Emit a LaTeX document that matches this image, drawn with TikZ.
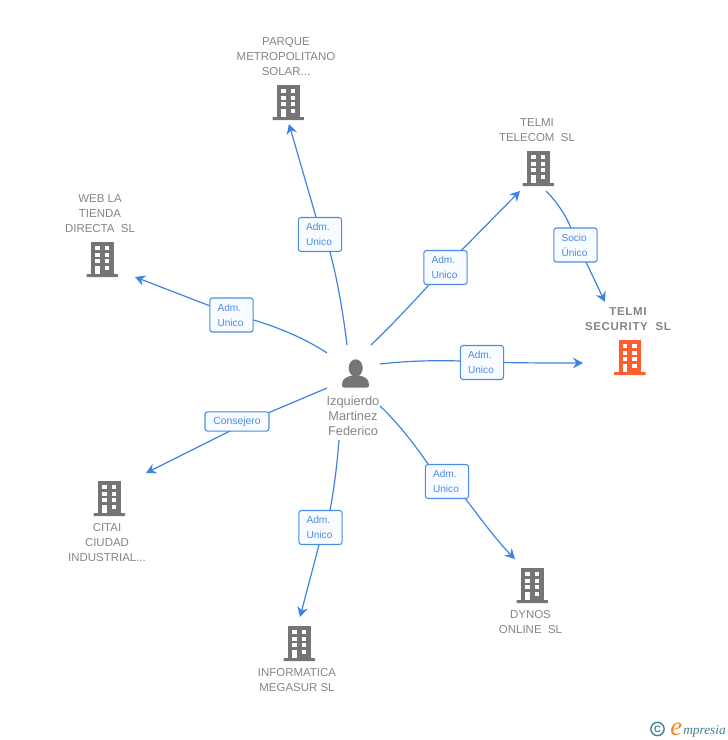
\documentclass[tikz,border=0pt]{standalone}
\usepackage{fontspec}
\setmainfont{Liberation Sans}
\newfontfamily\logofont{Liberation Serif}
\newfontfamily\boldspaced[LetterSpace=6]{Liberation Sans Bold}
\usetikzlibrary{arrows.meta}
\definecolor{linkblue}{HTML}{3F83E0}
\definecolor{labelblue}{HTML}{4A8CE4}
\definecolor{labelfill}{HTML}{F8FBFF}
\definecolor{txtgrey}{HTML}{858585}
\definecolor{icongrey}{HTML}{757575}
\definecolor{hot}{HTML}{FF5F2E}
\definecolor{logoblue}{HTML}{3E7F95}
\definecolor{logoorange}{HTML}{F08A1D}
\tikzset{
  x=0.75pt,y=-0.75pt,
  link/.style={draw=linkblue,line width=0.9pt,-{Stealth[length=7.5pt,width=8pt,inset=2.5pt]}},
  tag/.style={draw=labelblue,line width=0.8pt,fill=labelfill,rounded corners=2pt,text=labelblue,
    font=\fontsize{7.6}{11.2}\selectfont,inner sep=0pt,minimum height=25.5pt,text width=21pt,
    minimum width=32.5pt,align=left},
  tagwide/.style={draw=labelblue,line width=0.8pt,fill=labelfill,rounded corners=2pt,text=labelblue,
    font=\fontsize{7.8}{11.2}\selectfont,inner sep=0pt,minimum width=48pt,minimum height=14.5pt},
  nodetxt/.style={text=txtgrey,font=\fontsize{8.6}{11.25}\selectfont,align=center,inner sep=0pt},
  pics/tower/.style={code={
    \fill[#1] (-11,-17) rectangle (11.5,15);
    \fill[#1,rounded corners=0.5pt] (-15.5,15) rectangle (16,18);
    \foreach \yy in {-13,-6.3,0.3} {
      \fill[white] (-7,\yy) rectangle (-2.3,\yy+4);
      \fill[white] (2.7,\yy) rectangle (7.4,\yy+4);
    }
    \fill[white] (-7,7) rectangle (-2.3,15);
    \fill[white] (2.7,7) rectangle (7.4,11.3);
  }},
  pics/tower/.default=icongrey
}
\begin{document}
\begin{tikzpicture}
\useasboundingbox (0,0) rectangle (728,740);
% icons
\pic at (288,102) {tower};
\pic at (538,168) {tower};
\pic at (102,259) {tower};
\pic at (629.5,357) {tower=hot};
\pic at (109,498) {tower};
\pic at (532,585) {tower};
\pic at (299,643) {tower};
% person
\fill[icongrey] (355.7,368) ellipse (7 and 8.7);
\fill[icongrey,rounded corners=1.5pt] (342,387.5) .. controls (342,379) and (345,378) .. (351,375.5)
  -- (360.5,375.5) .. controls (366,378) and (369,379) .. (369,387.5) -- cycle;
% nodes
\node[nodetxt] (n1) at (286,56.5) {PARQUE\\METROPOLITANO\\SOLAR...};
\node[nodetxt] (n2) at (537,130) {TELMI\\TELECOM\ \ SL};
\node[nodetxt] (n3) at (100,213.5) {WEB LA\\TIENDA\\DIRECTA\ \ SL};
\node[nodetxt,font=\boldspaced\fontsize{8.6}{11.25}\selectfont] (n4) at (628,319.5) {TELMI\\SECURITY\ \ SL};
\node[nodetxt] (n5) at (107,542.5) {CITAI\\CIUDAD\\INDUSTRIAL...};
\node[nodetxt] (n6) at (530.5,622) {DYNOS\\ONLINE\ \ SL};
\node[nodetxt] (n7) at (297,680) {INFORMATICA\\MEGASUR SL};
\node[nodetxt,font=\fontsize{9.6}{11.25}\selectfont] (p) at (353,416) {Izquierdo\\Martinez\\Federico};
% connector ends
\coordinate (s1) at (347,345); \coordinate (e1) at (289,124);
\coordinate (s2) at (371,345); \coordinate (e2) at (520,191);
\coordinate (s3) at (327,353); \coordinate (e3) at (135,277);
\coordinate (s4) at (380,364); \coordinate (e4) at (583,363);
\coordinate (s5) at (546,191); \coordinate (e5) at (605,302);
\coordinate (s6) at (327,388); \coordinate (e6) at (146,473);
\coordinate (s7) at (339,440); \coordinate (e7) at (300,617);
\coordinate (s8) at (380,406); \coordinate (e8) at (515,559);
% connectors
\draw[link] (s1) .. controls (343,312) and (337,278) .. (330,252) -- (316,217) -- (e1);
\draw[link] (s2) .. controls (395,322) and (420,295) .. (445,267) -- (e2);
\draw[link] (s3) .. controls (300,335) and (265,322) .. (231,314) -- (e3);
\draw[link] (s4) .. controls (415,360) and (450,360) .. (482,362) .. controls (515,363) and (550,363) .. (e4);
\draw[link] (s5) .. controls (558,203) and (566,216) .. (571,228) -- (586,262) -- (e5);
\draw[link] (s6) -- (268,413) -- (230,431) -- (e6);
\draw[link] (s7) .. controls (337,465) and (334,490) .. (330,510) -- (319,545) -- (e7);
\draw[link] (s8) .. controls (398,423) and (415,445) .. (428,464) -- (465,498) .. controls (480,518) and (498,542) .. (e8);
% labels
\node[tag] (t1) at (320,234.5) {Adm.\\Unico};
\node[tag] (t2) at (445.5,267.5) {Adm.\\Unico};
\node[tag] (t3) at (231.5,315) {Adm.\\Unico};
\node[tag] (t4) at (482,362.5) {Adm.\\Unico};
\node[tag] (t5) at (575.5,245) {Socio\\Único};
\node[tagwide] (t6) at (237,421.5) {\raisebox{-1pt}{Consejero}};
\node[tag] (t7) at (320.5,527.5) {Adm.\\Unico};
\node[tag] (t8) at (447,481.5) {Adm.\\Unico};
% logo
\node[draw=logoblue,line width=1pt,circle,minimum size=10pt,inner sep=0pt,text=logoblue,font=\fontsize{7}{7}\selectfont\bfseries] (c) at (657.5,729) {C};
\node[inner sep=0pt,anchor=base west,text=logoorange,font=\logofont\itshape\fontsize{20}{20}\selectfont] (l1) at (670,735) {e};
\node[inner sep=0pt,anchor=base west,text=logoblue,font=\logofont\itshape\fontsize{10}{10}\selectfont] (l2) at (683,734) {mpresia};
\end{tikzpicture}
\end{document}
